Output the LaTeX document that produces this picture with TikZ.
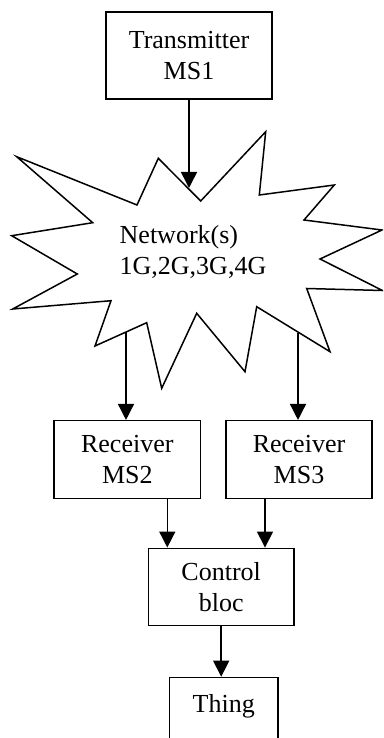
\documentclass[tikz,border=0pt]{standalone}
\usepackage{fontspec}
\setmainfont{Liberation Serif}
\usetikzlibrary{arrows.meta}
\begin{document}
\begin{tikzpicture}[x=1pt,y=-1pt,
  txt/.style={font=\fontsize{26}{31}\selectfont},
  box/.style={draw, line width=1.5pt, inner sep=0pt, align=center, txt},
  burst/.style={draw, line width=1.5pt, line join=miter, fill=white},
  arr/.style={line width=1.5pt, -{Triangle[length=16pt,width=16pt]}}]
\useasboundingbox (0,0) rectangle (383,738);
\clip (0,0) rectangle (383,738);
% transmitter
\node[box, minimum width=166, minimum height=87] (tx) at (189,55.5) {Transmitter\\MS1};
% network starburst
\path[burst] (200.7,201) -- (265.7,131.7) -- (259.3,195) -- (334.3,185)
  -- (304,220) -- (382,230) -- (320,259) -- (382.5,290.5) -- (306.7,288.5)
  -- (330,351.7) -- (256.7,306.7) -- (245,371.7) -- (196.7,313.3)
  -- (161.7,388.3) -- (146.7,322.7) -- (95,346) -- (111,300.7)
  -- (12.7,309) -- (77.3,274) -- (11.7,235.7) -- (92.7,222.7)
  -- (16.7,156.7) -- (137,205) -- (158.3,158.3) -- cycle;
\node[txt, align=left, inner sep=0pt, anchor=west] (net) at (119.5,252) {Network(s)\\1G,2G,3G,4G};
\coordinate (nettop) at (189,188);
\coordinate (netl) at (126,332);
\coordinate (netr) at (298,333);
% receivers
\node[box, minimum width=146.7, minimum height=77.6] (ms2) at (127.3,459.5) {Receiver\\MS2};
\node[box, minimum width=146, minimum height=77.6] (ms3) at (299,459.5) {Receiver\\MS3};
% control
\node[box, minimum width=145.7, minimum height=77.4] (ctrl) at (221.2,587) {Control\\bloc};
% thing
\node[box, minimum width=108.7, minimum height=80, text depth=28pt, anchor=north] (thing) at (223.7,676.7) {Thing};
% connectors
\coordinate (c1) at (167.3,0);
\coordinate (c2) at (265,0);
\draw[arr] (tx.south) -- (nettop);
\draw[arr] (netl) -- (ms2.north -| netl);
\draw[arr] (netr) -- (ms3.north -| netr);
\draw[arr] (ms2.south -| c1) -- (ctrl.north -| c1);
\draw[arr] (ms3.south -| c2) -- (ctrl.north -| c2);
\draw[arr] (ctrl.south) -- (ctrl.south |- thing.north);
\end{tikzpicture}
\end{document}
